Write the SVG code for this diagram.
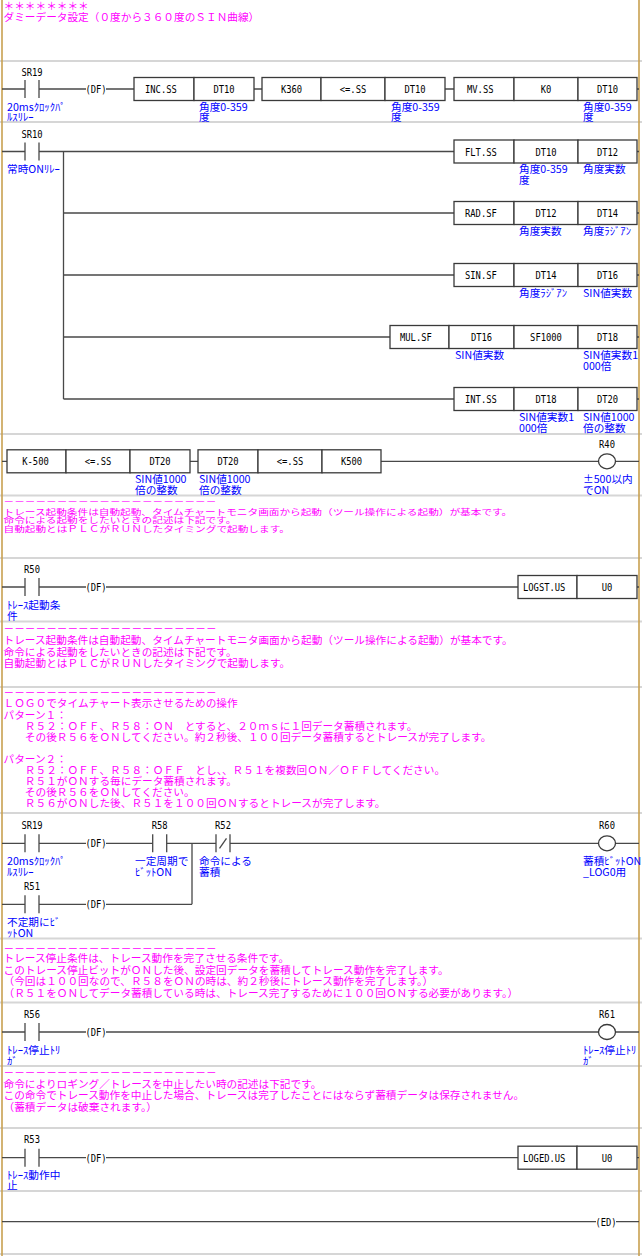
<svg xmlns="http://www.w3.org/2000/svg" xmlns:xlink="http://www.w3.org/1999/xlink" width="642" height="1256" viewBox="0 0 642 1256">
<style>
.bg{fill:#fff}
.rail{stroke:#c8a050;stroke-width:1.6}
.sep{stroke:#d6d6d6;stroke-width:2}
.w{stroke:#484848;stroke-width:1.3;fill:none}
.box{fill:#fff;stroke:#3a3a3a;stroke-width:1.3}
.coil{fill:#fff;stroke:#3a3a3a;stroke-width:1.3}
.lb{font-family:"DejaVu Sans Mono","Liberation Mono",monospace;font-size:11px;fill:#000}
.mid{text-anchor:middle}
.c{font-family:"Noto Sans CJK JP","Noto Sans",sans-serif;font-size:10.67px;fill:#0000ff}
.m{font-family:"Noto Sans CJK JP","Noto Sans",sans-serif;font-size:10.67px;fill:#ff00ff}
</style>
<defs>
<g id="no" class="w"><line x1="-7" y1="-9" x2="-7" y2="9"/><line x1="7" y1="-9" x2="7" y2="9"/></g>
<g id="nc" class="w"><line x1="-7" y1="-9" x2="-7" y2="9"/><line x1="7" y1="-9" x2="7" y2="9"/><line x1="-3.5" y1="5" x2="3.5" y2="-5"/></g>
</defs>
<rect class="bg" x="0" y="0" width="642" height="1256"/>
<g id="separators">
<line class="sep" x1="0" y1="61" x2="642" y2="61"/>
<line class="sep" x1="0" y1="122" x2="642" y2="122"/>
<line class="sep" x1="0" y1="434" x2="642" y2="434"/>
<line class="sep" x1="0" y1="495.5" x2="642" y2="495.5"/>
<line class="sep" x1="0" y1="558" x2="642" y2="558"/>
<line class="sep" x1="0" y1="621.5" x2="642" y2="621.5"/>
<line class="sep" x1="0" y1="687" x2="642" y2="687"/>
<line class="sep" x1="0" y1="813" x2="642" y2="813"/>
<line class="sep" x1="0" y1="938.5" x2="642" y2="938.5"/>
<line class="sep" x1="0" y1="1002.5" x2="642" y2="1002.5"/>
<line class="sep" x1="0" y1="1066" x2="642" y2="1066"/>
<line class="sep" x1="0" y1="1128" x2="642" y2="1128"/>
<line class="sep" x1="0" y1="1191" x2="642" y2="1191"/>
<line class="sep" x1="0" y1="1254" x2="642" y2="1254"/>
</g>
<g id="rails">
<line class="rail" x1="2" y1="0" x2="2" y2="1256"/>
<line class="rail" x1="639" y1="0" x2="639" y2="1256"/>
</g>
<g id="connectors" class="w">
<path d="M2 89H25M39 89H86M106 89H134M254 89H262M445 89H454M637 89H639"/>
<path d="M2 151.5H25M39 151.5H454M637 151.5H639M63.5 151.5V399M63.5 213H454M637 213H639M63.5 275H454M637 275H639M63.5 337H390M637 337H639M63.5 399H454M637 399H639"/>
<path d="M2 461.3H7M190 461.3H198M381 461.3H598.5M615.5 461.3H639"/>
<path d="M2 587H25M39 587H86M106 587H518M637 587H639"/>
<path d="M2 843.3H25M39 843.3H86M106 843.3H152.7M166.7 843.3H216M230 843.3H598.5M615.5 843.3H639M192 843.3V904.3M2 904.3H25M39 904.3H86M106 904.3H192"/>
<path d="M2 1032H25M39 1032H86M106 1032H598.5M615.5 1032H639"/>
<path d="M2 1157.7H25M39 1157.7H86M106 1157.7H518M637 1157.7H639"/>
<path d="M2 1221.7H596M616 1221.7H639"/>
</g>

<g id="cmt-title">
<text class="m" x="3.5" y="10">＊＊＊＊＊＊＊＊</text>
<text class="m" x="3.5" y="20.5">ダミーデータ設定（０度から３６０度のＳＩＮ曲線）</text>
</g>

<g id="sr19-a">
<text class="lb mid" x="32" y="75.5" textLength="21.2" lengthAdjust="spacingAndGlyphs">SR19</text>
<use xlink:href="#no" x="32" y="89"/>
<text class="c" x="7" y="111">20msｸﾛｯｸﾊﾟ</text>
<text class="c" x="7" y="121">ﾙｽﾘﾚｰ</text>
</g>
<g id="df-a"><text class="lb mid" x="96" y="93" textLength="21.2" lengthAdjust="spacingAndGlyphs">(DF)</text></g>
<g id="inc-ss">
<rect class="box" x="134" y="77.5" width="60" height="23"/><rect class="box" x="194" y="77.5" width="60" height="23"/>
<text class="lb" x="145" y="93" textLength="31.8" lengthAdjust="spacingAndGlyphs">INC.SS</text>
<text class="lb mid" x="224" y="93" textLength="21.2" lengthAdjust="spacingAndGlyphs">DT10</text>
<text class="c" x="199" y="111">角度0-359</text><text class="c" x="199" y="121">度</text>
</g>
<g id="cmp-le-a">
<rect class="box" x="262" y="77.5" width="59" height="23"/><rect class="box" x="321" y="77.5" width="64" height="23"/><rect class="box" x="385" y="77.5" width="60" height="23"/>
<text class="lb mid" x="291.5" y="93" textLength="21.2" lengthAdjust="spacingAndGlyphs">K360</text>
<text class="lb mid" x="353" y="93" textLength="26.5" lengthAdjust="spacingAndGlyphs">&lt;=.SS</text>
<text class="lb mid" x="415" y="93" textLength="21.2" lengthAdjust="spacingAndGlyphs">DT10</text>
<text class="c" x="391" y="111">角度0-359</text><text class="c" x="391" y="121">度</text>
</g>
<g id="mv-ss">
<rect class="box" x="454" y="77.5" width="60" height="23"/><rect class="box" x="514" y="77.5" width="64" height="23"/><rect class="box" x="578" y="77.5" width="59" height="23"/>
<text class="lb" x="467" y="93" textLength="26.5" lengthAdjust="spacingAndGlyphs">MV.SS</text>
<text class="lb mid" x="546" y="93" textLength="10.6" lengthAdjust="spacingAndGlyphs">K0</text>
<text class="lb mid" x="607.5" y="93" textLength="21.2" lengthAdjust="spacingAndGlyphs">DT10</text>
<text class="c" x="583" y="111">角度0-359</text><text class="c" x="583" y="121">度</text>
</g>

<g id="sr10">
<text class="lb mid" x="32" y="137.5" textLength="21.2" lengthAdjust="spacingAndGlyphs">SR10</text>
<use xlink:href="#no" x="32" y="151.5"/>
<text class="c" x="7" y="173">常時ONﾘﾚｰ</text>
</g>
<g id="flt-ss">
<rect class="box" x="454" y="140" width="60" height="23"/><rect class="box" x="514" y="140" width="64" height="23"/><rect class="box" x="578" y="140" width="59" height="23"/>
<text class="lb" x="465" y="155.5" textLength="31.8" lengthAdjust="spacingAndGlyphs">FLT.SS</text>
<text class="lb mid" x="546" y="155.5" textLength="21.2" lengthAdjust="spacingAndGlyphs">DT10</text>
<text class="lb mid" x="607.5" y="155.5" textLength="21.2" lengthAdjust="spacingAndGlyphs">DT12</text>
<text class="c" x="519" y="173">角度0-359</text><text class="c" x="519" y="183.5">度</text>
<text class="c" x="583" y="173">角度実数</text>
</g>
<g id="rad-sf">
<rect class="box" x="454" y="201.5" width="60" height="23"/><rect class="box" x="514" y="201.5" width="64" height="23"/><rect class="box" x="578" y="201.5" width="59" height="23"/>
<text class="lb" x="465" y="217" textLength="31.8" lengthAdjust="spacingAndGlyphs">RAD.SF</text>
<text class="lb mid" x="546" y="217" textLength="21.2" lengthAdjust="spacingAndGlyphs">DT12</text>
<text class="lb mid" x="607.5" y="217" textLength="21.2" lengthAdjust="spacingAndGlyphs">DT14</text>
<text class="c" x="519" y="235">角度実数</text>
<text class="c" x="583" y="235">角度ﾗｼﾞｱﾝ</text>
</g>
<g id="sin-sf">
<rect class="box" x="454" y="263.5" width="60" height="23"/><rect class="box" x="514" y="263.5" width="64" height="23"/><rect class="box" x="578" y="263.5" width="59" height="23"/>
<text class="lb" x="465" y="279" textLength="31.8" lengthAdjust="spacingAndGlyphs">SIN.SF</text>
<text class="lb mid" x="546" y="279" textLength="21.2" lengthAdjust="spacingAndGlyphs">DT14</text>
<text class="lb mid" x="607.5" y="279" textLength="21.2" lengthAdjust="spacingAndGlyphs">DT16</text>
<text class="c" x="519" y="297">角度ﾗｼﾞｱﾝ</text>
<text class="c" x="583" y="297">SIN値実数</text>
</g>
<g id="mul-sf">
<rect class="box" x="390" y="325.5" width="59" height="23"/><rect class="box" x="449" y="325.5" width="65" height="23"/><rect class="box" x="514" y="325.5" width="64" height="23"/><rect class="box" x="578" y="325.5" width="59" height="23"/>
<text class="lb" x="400" y="341" textLength="31.8" lengthAdjust="spacingAndGlyphs">MUL.SF</text>
<text class="lb mid" x="481.5" y="341" textLength="21.2" lengthAdjust="spacingAndGlyphs">DT16</text>
<text class="lb mid" x="546" y="341" textLength="31.8" lengthAdjust="spacingAndGlyphs">SF1000</text>
<text class="lb mid" x="607.5" y="341" textLength="21.2" lengthAdjust="spacingAndGlyphs">DT18</text>
<text class="c" x="455" y="359">SIN値実数</text>
<text class="c" x="583" y="359">SIN値実数1</text><text class="c" x="583" y="369.5">000倍</text>
</g>
<g id="int-ss">
<rect class="box" x="454" y="387.5" width="60" height="23"/><rect class="box" x="514" y="387.5" width="64" height="23"/><rect class="box" x="578" y="387.5" width="59" height="23"/>
<text class="lb" x="465" y="403" textLength="31.8" lengthAdjust="spacingAndGlyphs">INT.SS</text>
<text class="lb mid" x="546" y="403" textLength="21.2" lengthAdjust="spacingAndGlyphs">DT18</text>
<text class="lb mid" x="607.5" y="403" textLength="21.2" lengthAdjust="spacingAndGlyphs">DT20</text>
<text class="c" x="519" y="421">SIN値実数1</text><text class="c" x="519" y="431.5">000倍</text>
<text class="c" x="583" y="421">SIN値1000</text><text class="c" x="583" y="431.5">倍の整数</text>
</g>

<g id="cmp-k-500">
<rect class="box" x="7" y="449.8" width="59" height="23"/><rect class="box" x="66" y="449.8" width="64" height="23"/><rect class="box" x="130" y="449.8" width="60" height="23"/>
<text class="lb mid" x="35.5" y="465.3" textLength="26.5" lengthAdjust="spacingAndGlyphs">K-500</text>
<text class="lb mid" x="98" y="465.3" textLength="26.5" lengthAdjust="spacingAndGlyphs">&lt;=.SS</text>
<text class="lb mid" x="160" y="465.3" textLength="21.2" lengthAdjust="spacingAndGlyphs">DT20</text>
<text class="c" x="135" y="483">SIN値1000</text><text class="c" x="135" y="493.5">倍の整数</text>
</g>
<g id="cmp-k500">
<rect class="box" x="198" y="449.8" width="60" height="23"/><rect class="box" x="258" y="449.8" width="64" height="23"/><rect class="box" x="322" y="449.8" width="59" height="23"/>
<text class="lb mid" x="228" y="465.3" textLength="21.2" lengthAdjust="spacingAndGlyphs">DT20</text>
<text class="lb mid" x="290" y="465.3" textLength="26.5" lengthAdjust="spacingAndGlyphs">&lt;=.SS</text>
<text class="lb mid" x="351.5" y="465.3" textLength="21.2" lengthAdjust="spacingAndGlyphs">K500</text>
<text class="c" x="199" y="483">SIN値1000</text><text class="c" x="199" y="493.5">倍の整数</text>
</g>
<g id="r40">
<text class="lb mid" x="607" y="447.5" textLength="15.9" lengthAdjust="spacingAndGlyphs">R40</text>
<ellipse class="coil" cx="607" cy="461.3" rx="8.5" ry="7.5"/>
<text class="c" x="583" y="483">±500以内</text><text class="c" x="583" y="493.5">でON</text>
</g>

<g id="cmt-trace-start-1">
<g transform="translate(3.5,504.3) scale(1,0.78)">
<text class="m" x="0" y="0">－－－－－－－－－－－－－－－－－－－－</text>
<text class="m" x="0" y="13.7">トレース起動条件は自動起動、タイムチャートモニタ画面から起動（ツール操作による起動）が基本です。</text>
<text class="m" x="0" y="24.4">命令による起動をしたいときの記述は下記です。</text>
<text class="m" x="0" y="35.5">自動起動とはＰＬＣがＲＵＮしたタイミングで起動します。</text>
</g>
</g>

<g id="r50">
<text class="lb mid" x="32" y="573" textLength="15.9" lengthAdjust="spacingAndGlyphs">R50</text>
<use xlink:href="#no" x="32" y="587"/>
<text class="c" x="7" y="609">ﾄﾚｰｽ起動条</text><text class="c" x="7" y="619.5">件</text>
</g>
<g id="df-b"><text class="lb mid" x="96" y="591" textLength="21.2" lengthAdjust="spacingAndGlyphs">(DF)</text></g>
<g id="logst-us">
<rect class="box" x="518" y="575.5" width="59" height="23"/><rect class="box" x="577" y="575.5" width="60" height="23"/>
<text class="lb" x="523" y="591" textLength="42.4" lengthAdjust="spacingAndGlyphs">LOGST.US</text>
<text class="lb mid" x="607" y="591" textLength="10.6" lengthAdjust="spacingAndGlyphs">U0</text>
</g>

<g id="cmt-trace-start-2">
<text class="m" x="3.5" y="631.5">－－－－－－－－－－－－－－－－－－－－</text>
<text class="m" x="3.5" y="644">トレース起動条件は自動起動、タイムチャートモニタ画面から起動（ツール操作による起動）が基本です。</text>
<text class="m" x="3.5" y="655.5">命令による起動をしたいときの記述は下記です。</text>
<text class="m" x="3.5" y="666.5">自動起動とはＰＬＣがＲＵＮしたタイミングで起動します。</text>
</g>

<g id="cmt-log0">
<text class="m" x="3.5" y="695.7">－－－－－－－－－－－－－－－－－－－－</text>
<text class="m" x="3.5" y="707.4">ＬＯＧ０でタイムチャート表示させるための操作</text>
<text class="m" x="3.5" y="718.5">パターン１：</text>
<text class="m" x="3.5" y="729.6">　　Ｒ５２：ＯＦＦ、Ｒ５８：ＯＮ　とすると、２０ｍｓに１回データ蓄積されます。</text>
<text class="m" x="3.5" y="740.7">　　その後Ｒ５６をＯＮしてください。約２秒後、１００回データ蓄積するとトレースが完了します。</text>
<text class="m" x="3.5" y="762.9">パターン２：</text>
<text class="m" x="3.5" y="774">　　Ｒ５２：ＯＦＦ、Ｒ５８：ＯＦＦ　とし、、Ｒ５１を複数回ＯＮ／ＯＦＦしてください。</text>
<text class="m" x="3.5" y="785.1">　　Ｒ５１がＯＮする毎にデータ蓄積されます。</text>
<text class="m" x="3.5" y="796.2">　　その後Ｒ５６をＯＮしてください。</text>
<text class="m" x="3.5" y="807.3">　　Ｒ５６がＯＮした後、Ｒ５１を１００回ＯＮするとトレースが完了します。</text>
</g>

<g id="sr19-b">
<text class="lb mid" x="32" y="829" textLength="21.2" lengthAdjust="spacingAndGlyphs">SR19</text>
<use xlink:href="#no" x="32" y="843.3"/>
<text class="c" x="7" y="865">20msｸﾛｯｸﾊﾟ</text><text class="c" x="7" y="875.5">ﾙｽﾘﾚｰ</text>
</g>
<g id="df-c"><text class="lb mid" x="96" y="847.3" textLength="21.2" lengthAdjust="spacingAndGlyphs">(DF)</text></g>
<g id="r58">
<text class="lb mid" x="159.7" y="829" textLength="15.9" lengthAdjust="spacingAndGlyphs">R58</text>
<use xlink:href="#no" x="159.7" y="843.3"/>
<text class="c" x="135" y="865">一定周期で</text><text class="c" x="135" y="875.5">ﾋﾞｯﾄON</text>
</g>
<g id="r52">
<text class="lb mid" x="223" y="829" textLength="15.9" lengthAdjust="spacingAndGlyphs">R52</text>
<use xlink:href="#nc" x="223" y="843.3"/>
<text class="c" x="199" y="865">命令による</text><text class="c" x="199" y="875.5">蓄積</text>
</g>
<g id="r60">
<text class="lb mid" x="607" y="829" textLength="15.9" lengthAdjust="spacingAndGlyphs">R60</text>
<ellipse class="coil" cx="607" cy="843.3" rx="8.5" ry="7.5"/>
<text class="c" x="583" y="865">蓄積ﾋﾞｯﾄON</text><text class="c" x="583" y="875.5">_LOG0用</text>
</g>
<g id="r51">
<text class="lb mid" x="32" y="890" textLength="15.9" lengthAdjust="spacingAndGlyphs">R51</text>
<use xlink:href="#no" x="32" y="904.3"/>
<text class="c" x="7" y="926">不定期にﾋﾞ</text><text class="c" x="7" y="936.5">ｯﾄON</text>
</g>
<g id="df-d"><text class="lb mid" x="96" y="908.3" textLength="21.2" lengthAdjust="spacingAndGlyphs">(DF)</text></g>

<g id="cmt-trace-stop">
<text class="m" x="3.5" y="951.5">－－－－－－－－－－－－－－－－－－－－</text>
<text class="m" x="3.5" y="962">トレース停止条件は、トレース動作を完了させる条件です。</text>
<text class="m" x="3.5" y="973.5">このトレース停止ビットがＯＮした後、設定回データを蓄積してトレース動作を完了します。</text>
<text class="m" x="3.5" y="985">（今回は１００回なので、Ｒ５８をＯＮの時は、約２秒後にトレース動作を完了します。）</text>
<text class="m" x="3.5" y="996.5">（Ｒ５１をＯＮしてデータ蓄積している時は、トレース完了するために１００回ＯＮする必要があります。）</text>
</g>

<g id="r56">
<text class="lb mid" x="32" y="1017.5" textLength="15.9" lengthAdjust="spacingAndGlyphs">R56</text>
<use xlink:href="#no" x="32" y="1032"/>
<text class="c" x="7" y="1054">ﾄﾚｰｽ停止ﾄﾘ</text><text class="c" x="7" y="1064.5">ｶﾞ</text>
</g>
<g id="df-e"><text class="lb mid" x="96" y="1036" textLength="21.2" lengthAdjust="spacingAndGlyphs">(DF)</text></g>
<g id="r61">
<text class="lb mid" x="607" y="1017.5" textLength="15.9" lengthAdjust="spacingAndGlyphs">R61</text>
<ellipse class="coil" cx="607" cy="1032" rx="8.5" ry="7.5"/>
<text class="c" x="583" y="1054">ﾄﾚｰｽ停止ﾄﾘ</text><text class="c" x="583" y="1064.5">ｶﾞ</text>
</g>

<g id="cmt-trace-abort">
<text class="m" x="3.5" y="1075.5">－－－－－－－－－－－－－－－－－－－－</text>
<text class="m" x="3.5" y="1087.5">命令によりロギング／トレースを中止したい時の記述は下記です。</text>
<text class="m" x="3.5" y="1099">この命令でトレース動作を中止した場合、トレースは完了したことにはならず蓄積データは保存されません。</text>
<text class="m" x="3.5" y="1110.5">（蓄積データは破棄されます。）</text>
</g>

<g id="r53">
<text class="lb mid" x="32" y="1143.2" textLength="15.9" lengthAdjust="spacingAndGlyphs">R53</text>
<use xlink:href="#no" x="32" y="1157.7"/>
<text class="c" x="7" y="1178.5">ﾄﾚｰｽ動作中</text><text class="c" x="7" y="1189">止</text>
</g>
<g id="df-f"><text class="lb mid" x="96" y="1161.7" textLength="21.2" lengthAdjust="spacingAndGlyphs">(DF)</text></g>
<g id="loged-us">
<rect class="box" x="518" y="1146.2" width="59" height="23"/><rect class="box" x="577" y="1146.2" width="60" height="23"/>
<text class="lb" x="523" y="1161.7" textLength="42.4" lengthAdjust="spacingAndGlyphs">LOGED.US</text>
<text class="lb mid" x="607" y="1161.7" textLength="10.6" lengthAdjust="spacingAndGlyphs">U0</text>
</g>

<g id="ed"><text class="lb mid" x="606" y="1225.7" textLength="21.2" lengthAdjust="spacingAndGlyphs">(ED)</text></g>
</svg>
